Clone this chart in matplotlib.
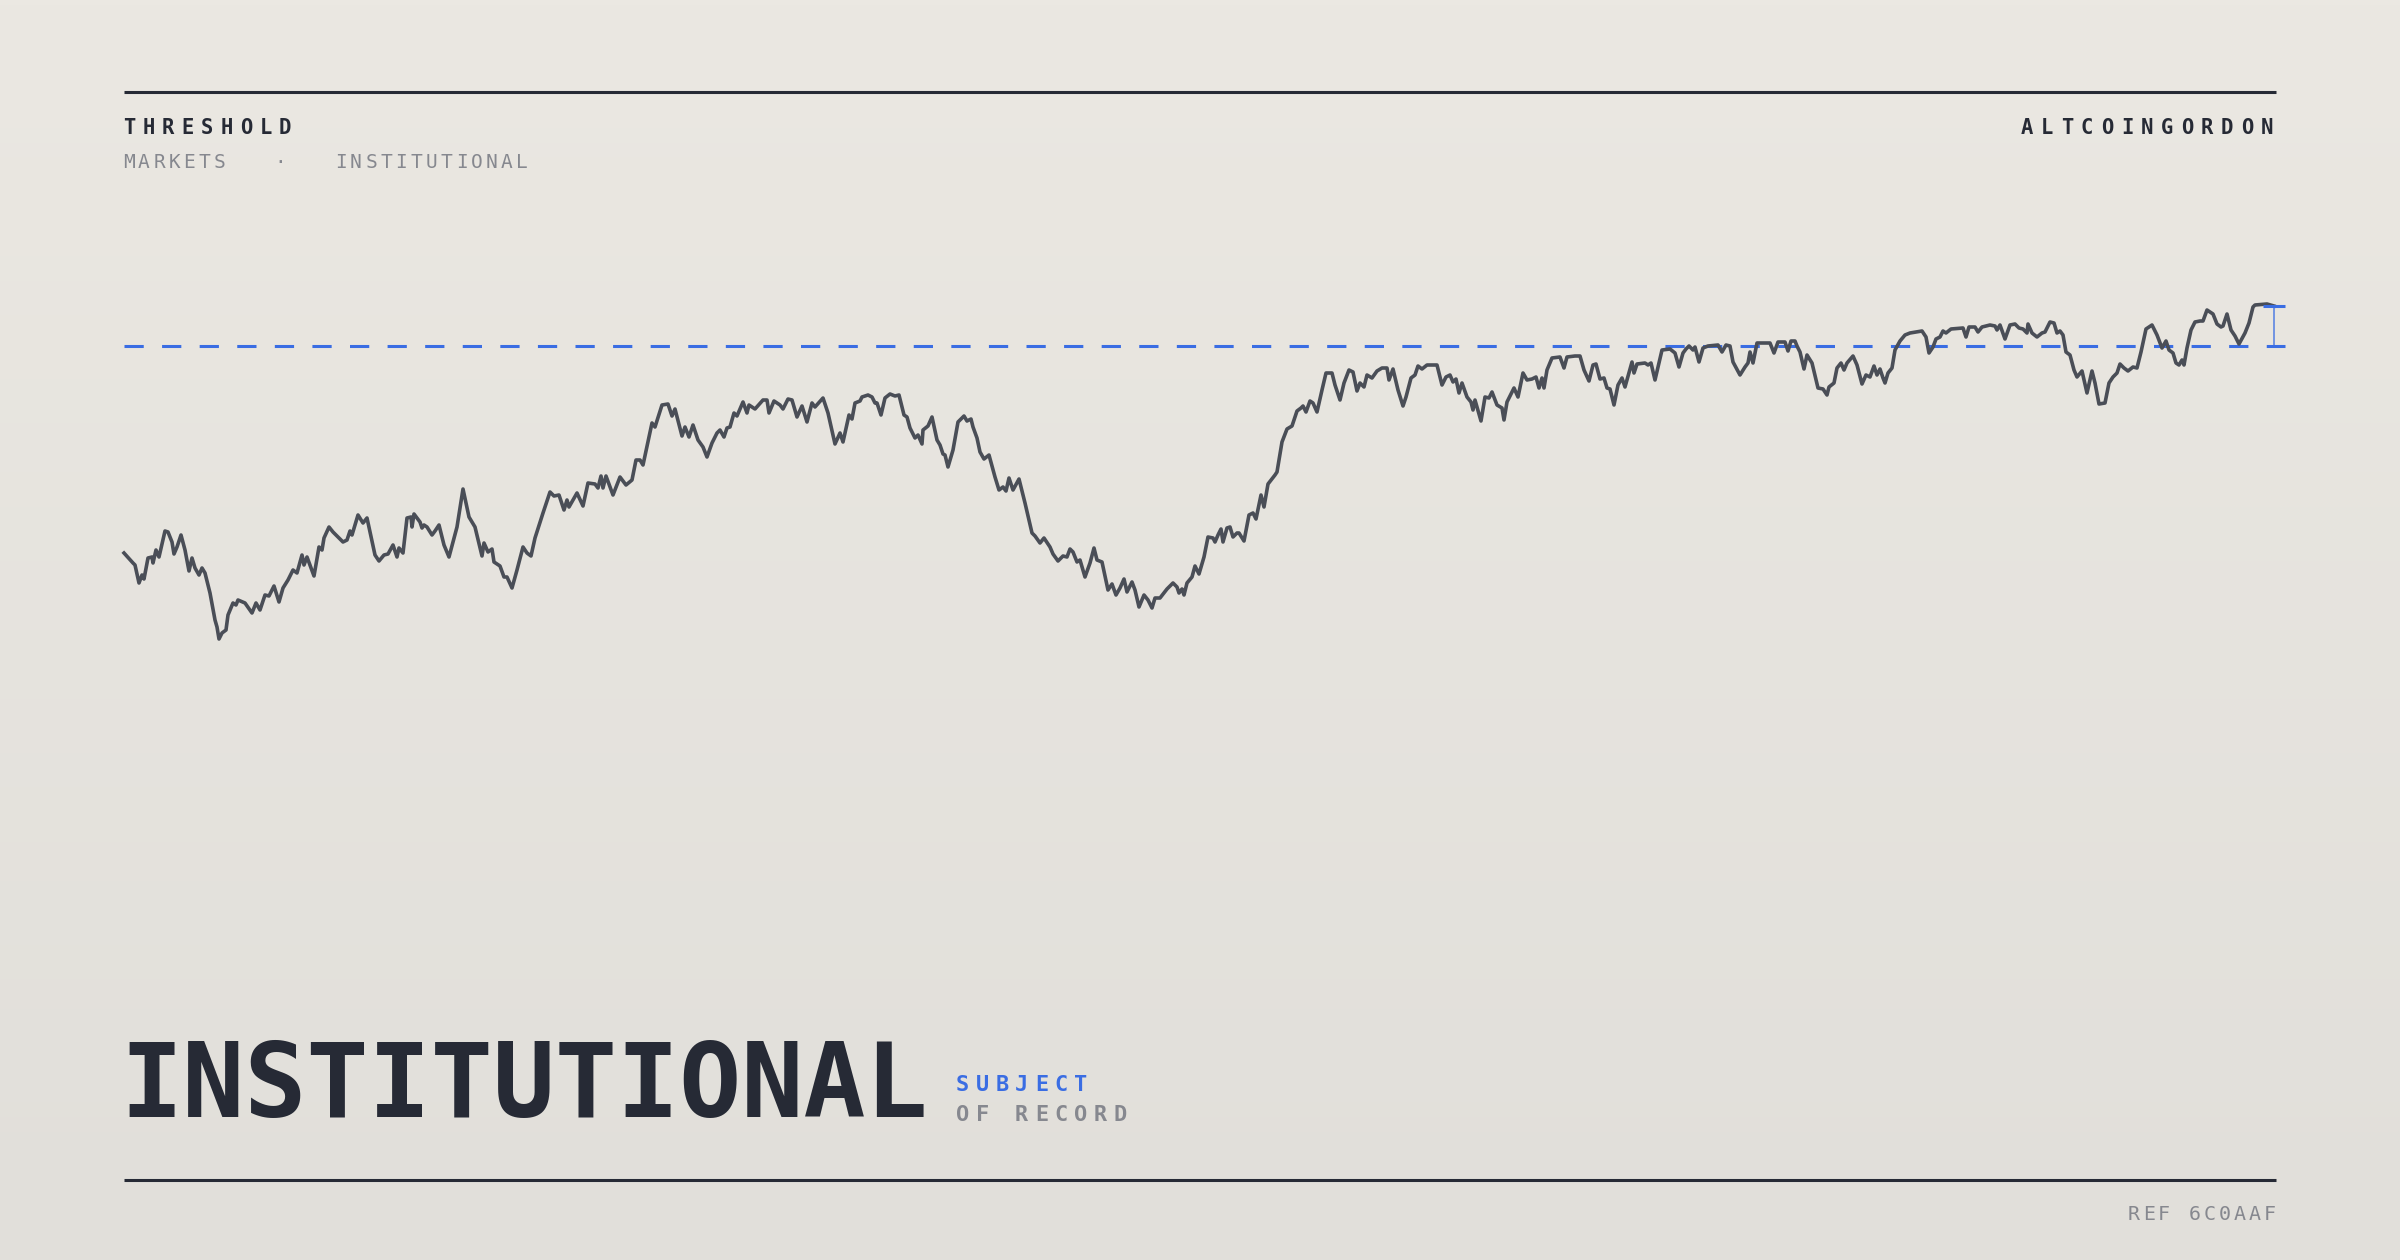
import numpy as np
import matplotlib
matplotlib.use("Agg")
import matplotlib.pyplot as plt
from matplotlib.lines import Line2D

# ---------------- data ----------------
days = [0, 4.5, 5.5, 7.5, 9, 10, 12, 14, 14.5, 16, 17.5, 20.5, 22, 24, 25, 26.5, 28.5, 30.5, 32.5, 34,
        35.5, 37.5, 39, 40.5, 43, 45.5, 46.5, 47.5, 49, 51, 52, 54.5, 56, 57, 60.5, 64, 66, 68, 70.5, 72.5,
        75, 77.5, 79.5, 82, 84.5, 86.5, 89, 90, 91.5, 95, 97.5, 99, 100, 102.5, 104.5, 109.5, 111.5, 113, 114, 117,
        119.5, 121.5, 125.5, 127.5, 130, 132, 134.5, 136.5, 137.5, 139.5, 141.5, 143.5, 144, 145, 148, 149, 150, 151.5, 154, 155.5,
        157.5, 160, 162.5, 164.5, 166.5, 169.5, 172.5, 175.5, 179, 180, 182, 184, 185, 188,
        190, 191.5, 194, 196.5, 199.5, 201.5, 203.5, 205.5, 209.5, 213, 215, 217.5, 220, 221.5, 222.5, 226.5, 229.5, 232, 235.5, 237,
        238.5, 239.5, 241, 244.5, 248, 251, 254, 256, 258, 259.5, 264, 265.5, 269, 272, 274, 275.5, 279, 280.5, 282.5, 284.5,
        287, 289.5, 291.5, 294, 296.5, 298, 300, 301.5, 303, 305, 306.5, 309.5, 311.5, 312.5, 315.5, 319.5, 321.5, 322.5, 325, 328,
        329.5, 332, 334, 336.5, 339, 341.5, 344, 345.5, 349.5, 352, 355.5, 358, 359.5, 362.5, 364, 365.5, 368,
        369, 372, 374, 375.5, 376.5, 378.5, 380.5, 383, 385.5, 387.5, 390, 391.5, 393, 395.5, 397, 399, 399.5, 402, 404, 406.5,
        408, 409.5, 410.5, 412, 414.5, 417, 420, 421.5, 423.5, 424.5, 426.5, 428, 430, 432.5, 435.5, 437.5, 439.5, 441, 442.5, 444.5,
        447.5, 450.5, 454, 455.5, 458, 460, 463, 464.5, 467, 469.5, 471.5, 473, 474.5, 476.5, 478, 480.5, 483, 485, 486.5, 489,
        492, 494, 496, 498, 500, 501.5, 504, 505.5, 507.5, 510, 512, 514, 515.5, 518, 521.5, 524.5, 526.5, 527.5, 529, 530,
        531.5, 534, 535.5, 537.5,
        540, 542, 544.5, 545.5, 547, 548.5, 549.5, 551.5, 553, 554.5, 556.5, 557.5, 560, 562.5, 564.5, 566, 568.5, 570, 572, 575.5,
        576.5, 579, 581.5, 584, 586.5, 588.5, 589.5, 591, 593, 594.5, 596.5, 599, 601, 604, 605.5, 608, 610, 612.5, 614.5, 616.5,
        618, 620, 621.5, 624, 626.5, 629, 631.5, 632.5, 634.5, 637, 639.5, 641, 643.5, 645.5, 647, 649, 651.5, 656.5, 659, 661,
        663, 664.5, 666, 667.5, 669, 671.5, 673.5, 674.5, 675.5, 678.5, 680.5, 682.5, 684, 686.5, 689, 690, 691.5, 695, 697, 699.5,
        701.5, 704, 706, 707.5, 709, 710, 711.5, 714, 718, 720, 721.5, 725.5, 728,
        730, 732.5, 734.5, 736, 738, 740, 741.5, 743, 745, 747, 749, 750.5, 754, 755, 756.5, 760.5, 762, 763.5, 765.5, 769,
        773, 775.5, 777.5, 779.5, 781, 782.5, 784.5, 785.5, 787.5, 789.5, 792, 797, 799, 801, 803, 804.5, 808, 810.5, 812, 813,
        814.5, 816.5, 819.5, 823, 825, 827, 830.5, 832, 833.5, 835.5, 836.5, 838, 840, 841.5, 844, 847, 849.5, 851.5, 852.5, 855,
        856.5, 858.5, 860, 861.5, 864.5, 866.5, 869, 871, 873, 875, 876.5, 878, 879.5, 880.5, 882, 884, 885.5, 888, 890.5, 893,
        899, 901, 902.5, 904.5, 906, 908,
        909.5, 911, 913.5, 919.5, 921, 922.5, 925.5, 927, 929, 933, 935.5, 936.5, 938, 940.5, 943, 945.5, 947.5, 949.5, 951.5, 952,
        954, 956.5, 959, 960.5, 963, 965, 966.5, 968, 969.5, 971, 973, 975, 976.5, 979, 981.5, 984, 985.5, 987.5, 990.5, 992.5,
        994.5, 996.5, 998, 1000, 1002, 1004.5, 1006.5, 1008.5, 1011, 1014, 1016.5, 1019, 1021, 1022.5, 1024.5, 1026, 1027.5, 1029, 1030, 1031.5,
        1033.5, 1035.5, 1038, 1039.5, 1041.5, 1044.5, 1046.5, 1048.5, 1049.5, 1051.5, 1053.5, 1055.5, 1057.5, 1060.5, 1062.5, 1064.5, 1065.5, 1071.5, 1075]

values = [96.5, 91.5, 90.5, 81.5, 85.5, 83.5, 94, 94.5, 91.5, 98, 94.5, 107.5, 107, 102, 96, 99.5, 105.5, 98, 87.5, 94,
          89, 85.5, 89, 86.5, 76.5, 63, 59.5, 53.5, 56.5, 58, 65.5, 71.5, 70.5, 73, 71.5, 66.5, 71.5, 68, 75.5, 75,
          80, 72, 79, 83, 88, 86.5, 95.5, 90.5, 94.5, 85, 99.5, 98, 104, 109.5, 107, 102, 103, 107.5, 105.5, 115.5,
          111.5, 114, 95.5, 92.5, 95.5, 96, 100.5, 94.5, 99, 96.5, 114, 114.5, 109.5, 116, 112, 109, 110.5, 109.5, 105.5, 107.5,
          110.5, 100.5, 94.5, 102, 109.5, 128.5, 114.5, 109.5, 95, 101.5, 97, 98.5, 92, 90,
          84.5, 84.5, 79, 88, 99.5, 96.5, 95, 104, 116.5, 127, 125, 125.5, 118, 123, 119.5, 126.5, 120, 131.5, 131, 129,
          135, 129, 135, 125.5, 134.5, 130.5, 133, 143, 143, 140.5, 161.5, 159.5, 170.5, 171, 165, 168.5, 155, 159.5, 154.5, 160.5,
          153, 149.5, 144.5, 151.5, 156.5, 158, 154.5, 159, 159.5, 166.5, 165, 172, 166.5, 170.5, 168.5, 173, 173, 166.5, 172.5, 170.5,
          168.5, 173.5, 173, 164.5, 170, 162, 171.5, 169.5, 174, 166.5, 151, 156.5, 152, 165.5, 163.5, 171.5, 172.5,
          174.5, 175.5, 174.5, 171.5, 171.5, 165.5, 174, 176, 175, 175.5, 165.5, 164.5, 159, 154, 155.5, 151, 158, 160, 164.5, 153,
          150.5, 146, 145.5, 139.5, 148, 162, 165, 162.5, 163.5, 159.5, 154, 147, 143.5, 145.5, 134.5, 128, 129.5, 127.5, 134, 128,
          133.5, 121.5, 106.5, 105, 101.5, 104, 99.5, 96, 92.5, 95, 94.5, 98.5, 97, 92, 93, 84.5, 91.5, 99, 93, 92,
          78, 81, 75.5, 79, 83.5, 77, 82, 78, 69.5, 75.5, 73, 69, 74, 74, 78.5, 81.5, 79.5, 76.5, 78.5, 75.5,
          81.5, 84.5, 90, 86,
          94.5, 104.5, 104, 102, 105.5, 108.5, 102, 109, 109.5, 104.5, 106.5, 106.5, 102.5, 115.5, 116.5, 113.5, 125.5, 119.5, 131, 135.5,
          137, 152, 158.5, 160, 167.5, 169, 170, 167, 172.5, 171.5, 167, 178, 186.5, 186.5, 180.5, 173, 181.5, 188, 187, 177.5,
          181.5, 179.5, 185.5, 184, 187.5, 189, 189, 183, 188.5, 178, 170, 174.5, 184, 185.5, 190, 188.5, 190.5, 190.5, 180.5, 184.5,
          185.5, 182, 183.5, 176.5, 181.5, 174.5, 172, 168, 173, 162.5, 174.5, 174, 177, 170.5, 169, 163, 172, 179, 174.5, 186.5,
          183, 183.5, 184.5, 179, 184, 179, 188, 194, 194.5, 189, 194.5, 195, 195,
          188, 182.5, 190.5, 191, 183.5, 184, 179, 178.5, 170.5, 180.5, 184, 179.5, 192, 186.5, 191, 191.5, 190.5, 191.5, 183, 198,
          198.5, 196.5, 189.5, 196.5, 198.5, 200, 198, 199.5, 192, 199, 200, 200.5, 197, 200.5, 200, 192, 185.5, 189.5, 191.5, 197,
          191.5, 201.5, 201.5, 201.5, 196.5, 202, 202, 197.5, 202.5, 202.5, 200, 197, 188.5, 195.5, 191.5, 179, 178.5, 175.5, 179.5, 181.5,
          189, 191.5, 188, 191.5, 195, 190.5, 181, 185.5, 184.5, 190, 185.5, 188.5, 184, 181.5, 186.5, 189, 198, 202.5, 205.5, 206.5,
          207.5, 204.5, 196.5, 199.5, 203.5, 204.5,
          207.5, 206.5, 208.5, 209, 204.5, 209.5, 209.5, 207, 209.5, 210.5, 210, 208, 210.5, 203.5, 210.5, 211, 209, 208.5, 206.5, 211,
          206.5, 204.5, 206.5, 207, 212, 211.5, 206.5, 207.5, 205.5, 197, 195.5, 188, 184.5, 187.5, 176.5, 187.5, 181.5, 171, 171.5, 181.5,
          184.5, 186.5, 191, 189, 187.5, 189.5, 189, 197, 208.5, 210.5, 205.5, 199, 202.5, 198, 196.5, 191.5, 190.5, 193, 190.5, 199,
          208, 212, 212.5, 212.5, 218, 216, 211, 209.5, 210, 216, 208, 205, 201, 206.5, 211.5, 219.5, 220.5, 221, 220]

threshold = 200

header_left = "THRESHOLD"
header_sub = ["MARKETS", "\u00b7", "INSTITUTIONAL"]
header_right = "ALTCOINGORDON"
title_main = "INSTITUTIONAL"
title_tag1 = "SUBJECT"
title_tag2 = "OF RECORD"
ref_text = "REF 6C0AAF"

# ---------------- style ----------------
W, H = 2400, 1260
DPI = 200
DARK = "#262a35"
GRAY = "#86888f"
BLUE = "#3a6de3"
LINE = "#4a4e57"
MONO = "DejaVu Sans Mono"

fig = plt.figure(figsize=(W / DPI, H / DPI), dpi=DPI)

# background gradient
bg = fig.add_axes([0, 0, 1, 1], zorder=-10)
bg.axis("off")
g = np.linspace(0, 1, 256)[:, None, None]
top = np.array([235, 232, 226]) / 255.0
bot = np.array([225, 223, 218]) / 255.0
img = top + (bot - top) * g
bg.imshow(img, aspect="auto", extent=[0, 1, 0, 1], origin="upper")
bg.set_xlim(0, 1)
bg.set_ylim(0, 1)


def fx(px):
    return px / W


def fy(py):
    return 1 - py / H


def tracked(x, y, s, adv, size, weight, color):
    for i, ch in enumerate(s):
        fig.text(fx(x + i * adv), fy(y), ch, fontsize=size, fontweight=weight,
                 color=color, family=MONO, ha="left", va="baseline")


# rules
for ry in (92, 1180):
    fig.add_artist(Line2D([fx(124), fx(2276)], [fy(ry), fy(ry)], color=DARK, lw=1.1,
                          solid_capstyle="butt"))

# header texts
tracked(123, 134, header_left, 19.5, 7.4, "bold", DARK)
tracked(2021, 134, header_right, 20.0, 7.4, "bold", DARK)
tracked(123, 168, header_sub[0], 15.1, 7.0, "normal", GRAY)
fig.text(fx(280), fy(168), header_sub[1], fontsize=7.0, color=GRAY, family=MONO,
         ha="center", va="baseline")
tracked(335, 168, header_sub[2], 15.1, 7.0, "normal", GRAY)

# big title
fig.text(fx(120), fy(1117), title_main, fontsize=37.2, fontweight="bold", color=DARK,
         family=MONO, ha="left", va="baseline")
tracked(956, 1091, title_tag1, 19.7, 7.9, "bold", BLUE)
tracked(956, 1121, title_tag2, 19.7, 7.9, "bold", GRAY)

# footer ref
tracked(2128, 1220, ref_text, 15.1, 7.2, "normal", GRAY)

# ---------------- chart ----------------
ax = fig.add_axes([fx(124), fy(660), (2284 - 124) / W, (660 - 280) / H])
ax.set_xlim(0, 1080)
ax.set_ylim(43, 233)
ax.axis("off")
ax.patch.set_alpha(0)

last_d = days[-1]
last_v = values[-1]

ax.hlines(threshold, 0, last_d + 5.5, color=BLUE, lw=1.1, linestyles=(0, (6.3, 6.0)),
          clip_on=False)
ax.plot(days, values, color=LINE, lw=1.3, solid_joinstyle="round", clip_on=False, zorder=3)

# gap marker
ax.vlines(last_d, threshold, last_v, color=BLUE, lw=0.6, alpha=0.8, clip_on=False, zorder=4)
ax.hlines(last_v, last_d - 5.5, last_d + 5.5, color=BLUE, lw=1.1, clip_on=False, zorder=4)

fig.savefig("out.png", dpi=DPI)
